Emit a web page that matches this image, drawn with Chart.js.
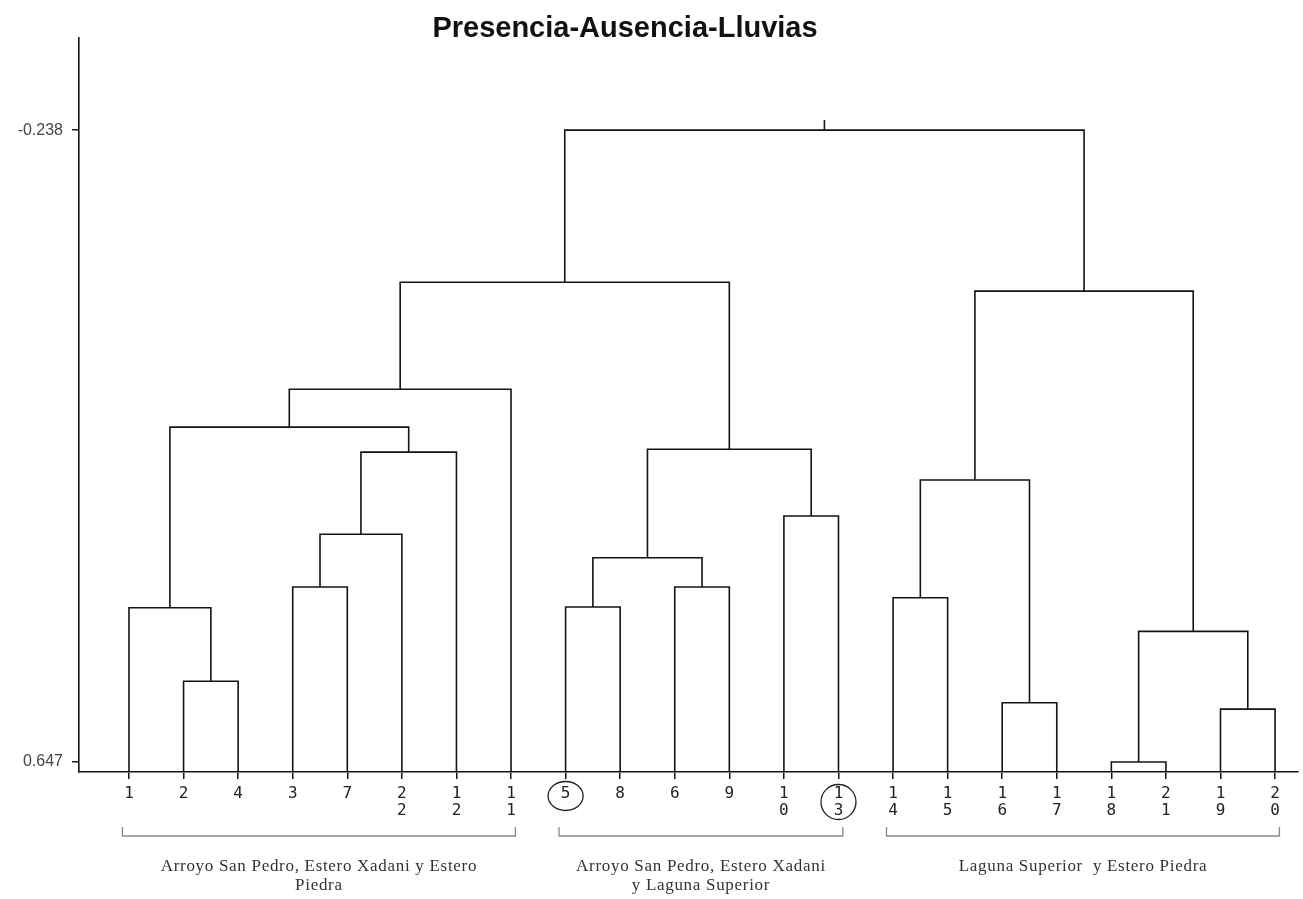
<!DOCTYPE html>
<html>
<head>
<meta charset="utf-8">
<title>Presencia-Ausencia-Lluvias</title>
<script src="https://cdn.jsdelivr.net/npm/chart.js@4.4.1/dist/chart.umd.min.js"></script>
<style>
  html, body { margin: 0; padding: 0; background: #fff; }
  #wrap { width: 1303px; height: 899px; }
</style>
</head>
<body>
<div id="wrap"><canvas id="dendro" width="1303" height="899"></canvas></div>
<script>
var chartTitle = 'Presencia-Ausencia-Lluvias';

// leaf order along the bottom axis
var leafLabels = ['1', '2', '4', '3', '7', '22', '12', '11', '5', '8', '6', '9', '10', '13', '14', '15', '16', '17', '18', '21', '19', '20'];

// agglomeration steps, cluster k is named 'c' + k
var mergeLeft   = ['18',  '19',  '16',  '2',   'c0',  '1',   '5',   '14',  '3',   '6',   'c6',  'c8',  '10',   'c7',  'c11', 'c10', 'c5',  'c16', 'c17',  'c13',   'c18'];
var mergeRight  = ['21',  '20',  '17',  '4',   'c1',  'c3',  '8',   '15',  '7',   '9',   'c9',  '22',  '13',   'c2',  '12',  'c12', 'c14', '11',  'c15',  'c4',    'c19'];
var mergeHeight = [0.647, 0.573, 0.564, 0.534, 0.464, 0.431, 0.430, 0.417, 0.402, 0.402, 0.361, 0.328, 0.3025, 0.252, 0.213, 0.209, 0.178, 0.125, -0.025, -0.0125, -0.238];

var yTicks = [-0.238, 0.647];

// groups marked with brackets under the leaves
var groupFirst = ['1', '5', '14'];
var groupLast  = ['11', '13', '20'];
var groupNames = [
    ['Arroyo San Pedro, Estero Xadani y Estero', 'Piedra'],
    ['Arroyo San Pedro, Estero Xadani', 'y Laguna Superior'],
    ['Laguna Superior  y Estero Piedra']
];
var circledLeaves = ['5', '13'];

// scale limits
var yTop = -0.367, yBottom = 0.661;
var rootStub = -0.252;

// build the U-shaped links
var nodeX = {}, nodeY = {};
leafLabels.forEach(function (lab, i) {
    nodeX[lab] = i;
    nodeY[lab] = yBottom;
});

var linkSets = [];
mergeHeight.forEach(function (h, k) {
    var a = mergeLeft[k], b = mergeRight[k];
    linkSets.push({
        data: [
            { x: nodeX[a], y: nodeY[a] },
            { x: nodeX[a], y: h },
            { x: nodeX[b], y: h },
            { x: nodeX[b], y: nodeY[b] }
        ]
    });
    nodeX['c' + k] = (nodeX[a] + nodeX[b]) / 2;
    nodeY['c' + k] = h;
});
var root = 'c' + (mergeHeight.length - 1);
linkSets.push({ data: [{ x: nodeX[root], y: nodeY[root] }, { x: nodeX[root], y: rootStub }] });

var datasets = linkSets.map(function (d) {
    return {
        data: d.data,
        showLine: true,
        borderColor: '#141414',
        borderWidth: 1.6,
        pointRadius: 0,
        tension: 0,
        fill: false
    };
});

var extras = {
    id: 'extras',
    afterDraw: function (chart) {
        var ctx = chart.ctx;
        var xs = chart.scales.x;
        var base = chart.chartArea.bottom;
        ctx.save();

        // title
        ctx.fillStyle = '#111';
        ctx.font = 'bold 29px "Liberation Sans", Arial, sans-serif';
        ctx.textAlign = 'center';
        ctx.textBaseline = 'middle';
        ctx.fillText(chartTitle, 625, 29);

        // circled leaf labels
        ctx.strokeStyle = '#222';
        ctx.lineWidth = 1.3;
        circledLeaves.forEach(function (lab) {
            var n = lab.length;
            var cx = xs.getPixelForValue(leafLabels.indexOf(lab));
            var cy = base + 24 + (n - 1) * 6;
            ctx.beginPath();
            ctx.ellipse(cx, cy, 17.5, 14.5 + (n - 1) * 3, 0, 0, Math.PI * 2);
            ctx.stroke();
        });

        // brackets and group names
        groupNames.forEach(function (lines, g) {
            var x1 = xs.getPixelForValue(leafLabels.indexOf(groupFirst[g]) - 0.12);
            var x2 = xs.getPixelForValue(leafLabels.indexOf(groupLast[g]) + 0.08);
            var by = base + 64;
            ctx.strokeStyle = '#888';
            ctx.lineWidth = 1.3;
            ctx.beginPath();
            ctx.moveTo(x1, by - 9);
            ctx.lineTo(x1, by);
            ctx.lineTo(x2, by);
            ctx.lineTo(x2, by - 9);
            ctx.stroke();

            ctx.fillStyle = '#333';
            ctx.font = '17px "Liberation Serif", "Times New Roman", serif';
            ctx.letterSpacing = '0.7px';
            ctx.textAlign = 'center';
            ctx.textBaseline = 'middle';
            lines.forEach(function (t, j) {
                ctx.fillText(t, (x1 + x2) / 2, base + 95 + j * 19);
            });
            ctx.letterSpacing = '0px';
        });
        ctx.restore();
    }
};

new Chart(document.getElementById('dendro').getContext('2d'), {
    type: 'scatter',
    data: { datasets: datasets },
    options: {
        responsive: false,
        animation: false,
        events: [],
        layout: { padding: { top: 38, right: 5, left: 0, bottom: 0 } },
        plugins: {
            legend: { display: false },
            tooltip: { enabled: false },
            title: { display: false }
        },
        scales: {
            x: {
                type: 'linear',
                min: -0.916,
                max: 21.42,
                afterFit: function (scale) { scale.height = 127; },
                afterBuildTicks: function (scale) {
                    scale.ticks = leafLabels.map(function (l, i) { return { value: i }; });
                },
                grid: { drawOnChartArea: false, drawTicks: true, tickLength: 7, color: '#141414', lineWidth: 1.5 },
                border: { display: true, color: '#141414', width: 1.6 },
                ticks: {
                    autoSkip: false,
                    maxRotation: 0,
                    minRotation: 0,
                    padding: 6,
                    color: '#222',
                    font: { family: '"DejaVu Sans Mono", monospace', size: 16, lineHeight: 1.06 },
                    callback: function (value) {
                        var s = leafLabels[value];
                        return s.length > 1 ? s.split('') : s;
                    }
                }
            },
            y: {
                type: 'linear',
                reverse: true,
                min: yTop,
                max: yBottom,
                afterFit: function (scale) { scale.width = 79; },
                afterBuildTicks: function (scale) {
                    scale.ticks = yTicks.map(function (v) { return { value: v }; });
                },
                grid: { drawOnChartArea: false, drawTicks: true, tickLength: 7, color: '#141414', lineWidth: 1.5 },
                border: { display: true, color: '#141414', width: 1.6 },
                ticks: {
                    padding: 9,
                    color: '#444',
                    font: { family: '"Liberation Sans", Arial, sans-serif', size: 16 },
                    callback: function (value) { return String(value); }
                }
            }
        }
    },
    plugins: [extras]
});
</script>
</body>
</html>
